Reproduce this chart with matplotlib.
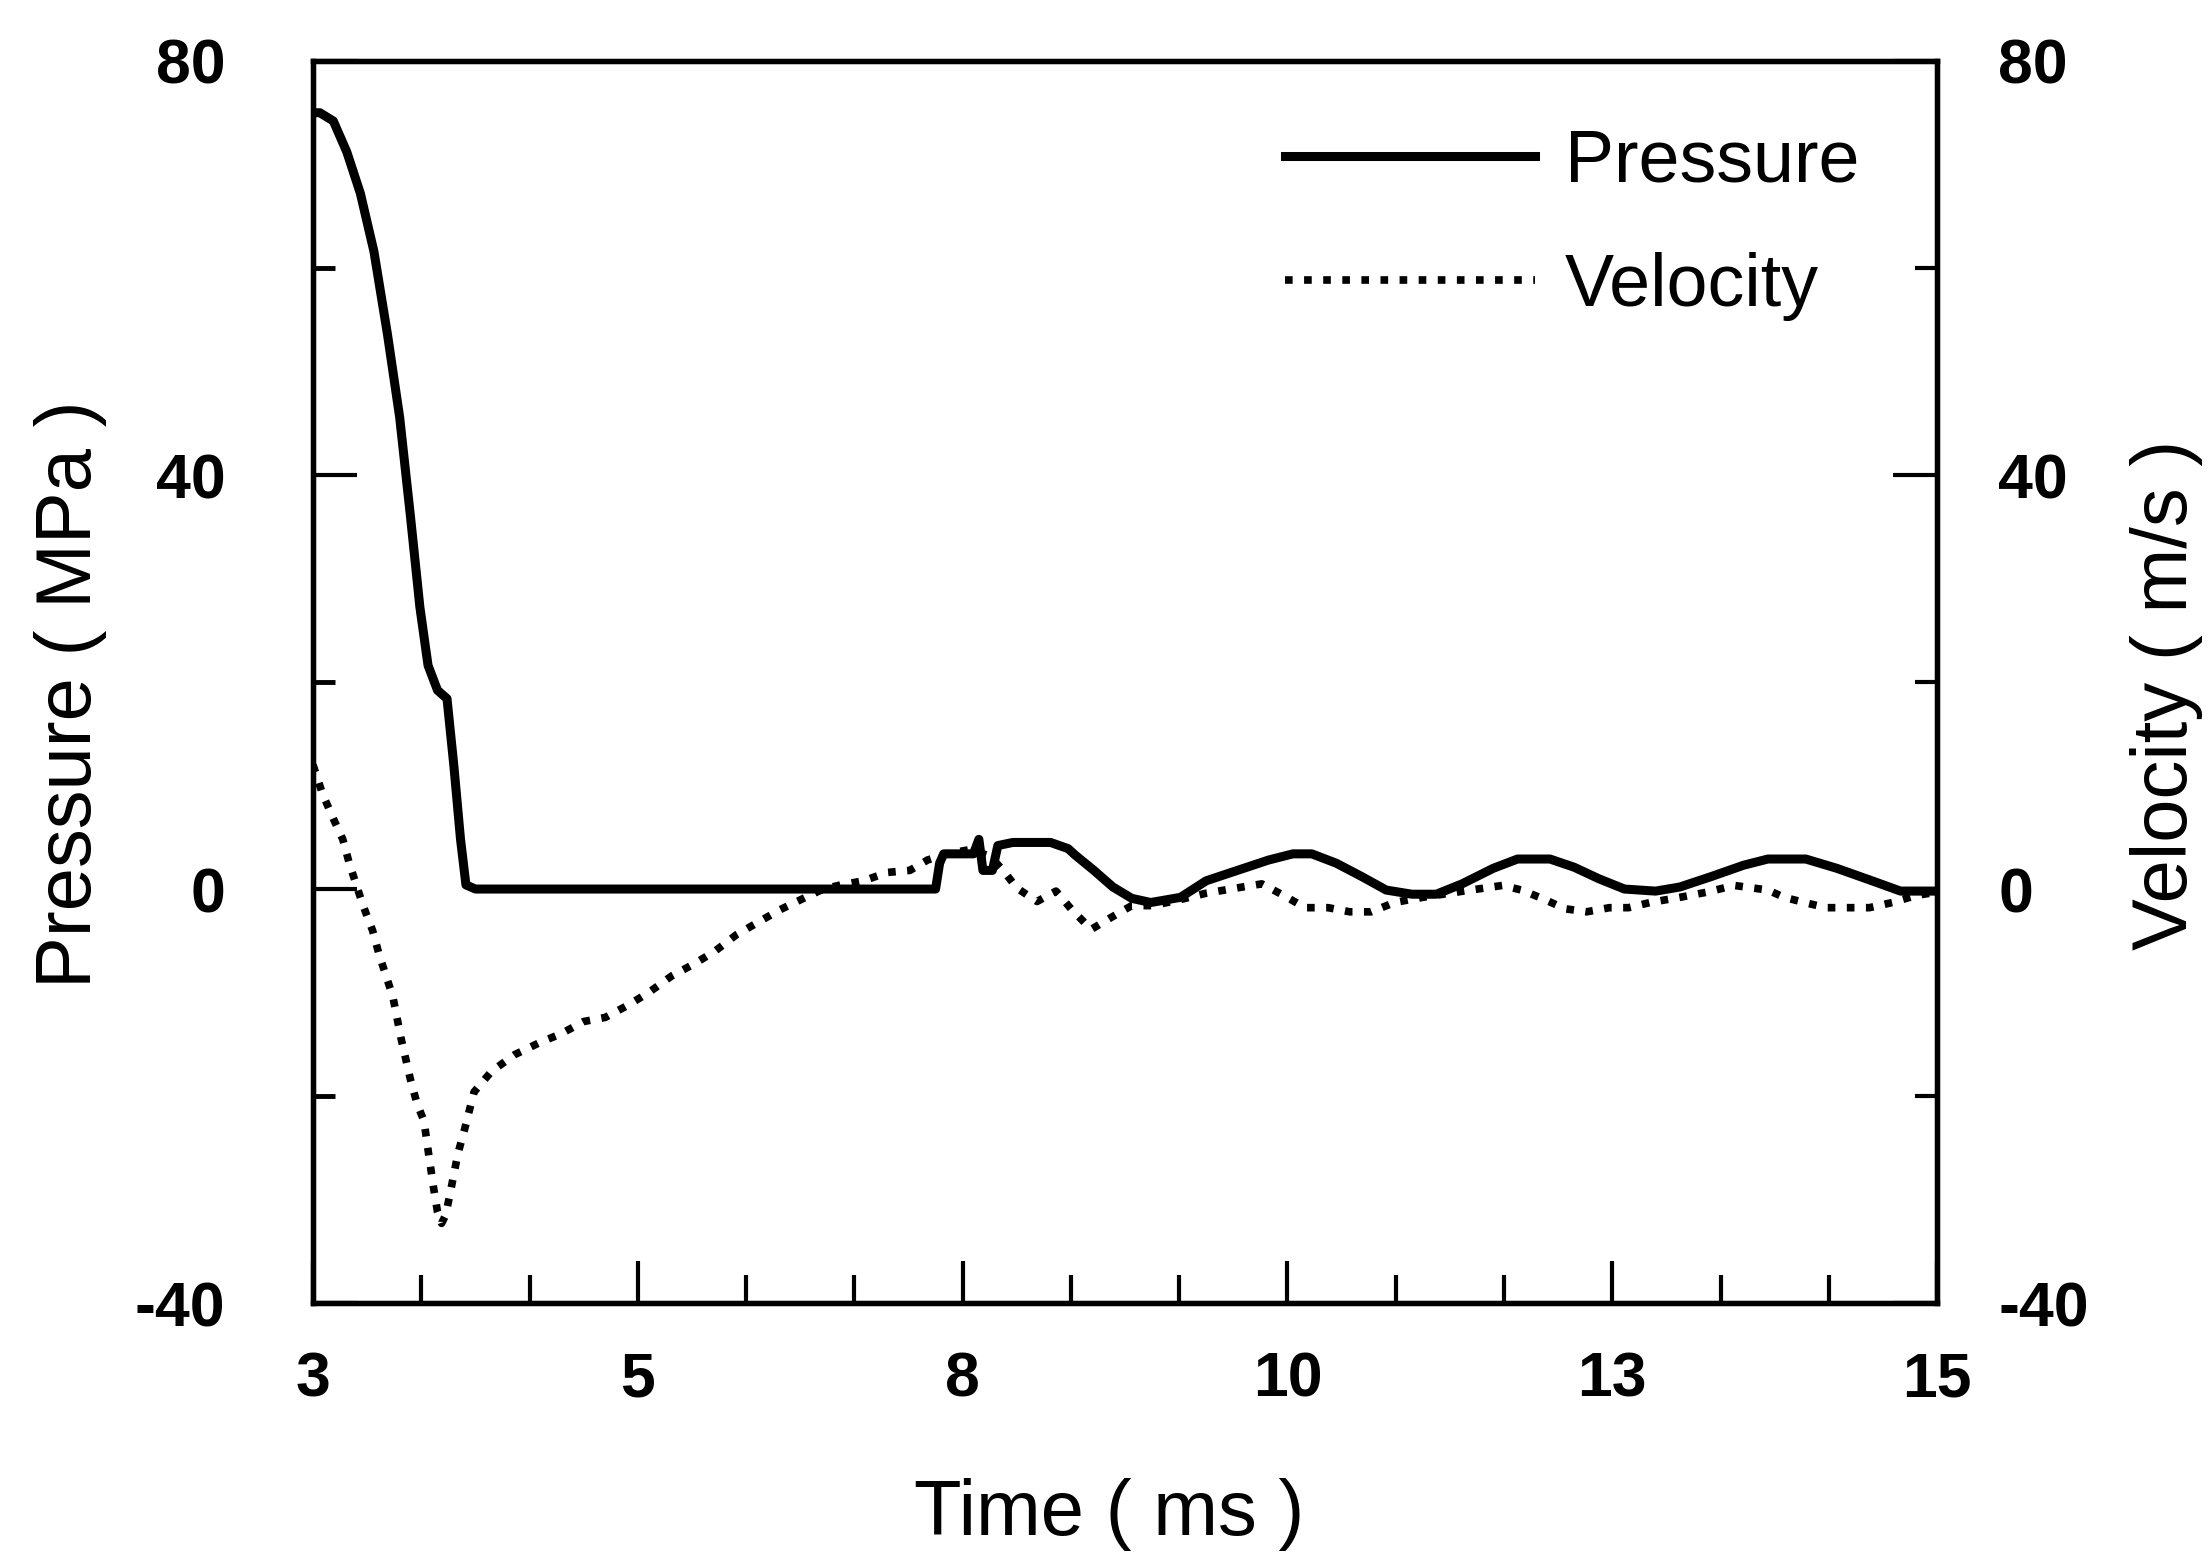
import numpy as np
import matplotlib
matplotlib.use("Agg")
import matplotlib.pyplot as plt
from matplotlib.ticker import FixedLocator

plt.rcParams['font.family'] = ['Liberation Sans', 'DejaVu Sans']
plt.rcParams['axes.unicode_minus'] = False

# pressure trace (MPa)
t_p = [3.0, 3.05, 3.15, 3.25, 3.35, 3.45, 3.55, 3.64, 3.72, 3.79, 3.85, 3.92,
       3.99, 4.04, 4.09, 4.13, 4.2, 7.6, 7.63, 7.66, 7.88, 7.92, 7.95, 8.02,
       8.06, 8.17, 8.45, 8.58, 8.63, 8.77, 8.91, 9.05, 9.19, 9.41, 9.6, 9.83,
       10.06, 10.24, 10.38, 10.56, 10.75, 10.93, 11.12, 11.3, 11.49, 11.72,
       11.9, 12.14, 12.32, 12.5, 12.69, 12.92, 13.1, 13.33, 13.57, 13.75,
       14.03, 14.26, 14.54, 14.73, 15.0]
pressure = [75, 75, 74.2, 71.2, 67.2, 61.6, 53.6, 45.6, 36, 27.2, 21.6, 19.2,
            18.4, 12, 4.8, 0.4, 0, 0, 2.5, 3.4, 3.4, 4.8, 1.8, 1.8,
            4.2, 4.5, 4.5, 3.9, 3.3, 1.8, 0.2, -0.9, -1.3, -0.8, 0.8, 1.8,
            2.8, 3.4, 3.4, 2.5, 1.2, -0.1, -0.5, -0.5, 0.5, 2.0,
            2.9, 2.9, 2.1, 1.0, 0.0, -0.2, 0.2, 1.2, 2.3, 2.9,
            2.9, 2.0, 0.7, -0.2, -0.2]

# velocity trace (m/s)
t_v = [3.0, 3.07, 3.15, 3.22, 3.27, 3.32, 3.37, 3.44, 3.49, 3.54, 3.59, 3.65,
       3.72, 3.77, 3.82, 3.85, 3.89, 3.92, 3.95, 3.98, 4.01, 4.07, 4.12, 4.19,
       4.32, 4.49, 4.68, 4.83, 5.0, 5.16, 5.33, 5.48, 5.65, 5.82, 5.97, 6.13,
       6.29, 6.45, 6.64, 6.77, 6.9, 7.07, 7.24, 7.41, 7.54, 7.68, 7.85, 8.0,
       8.1, 8.2, 8.35, 8.49, 8.6, 8.75, 8.89, 9.05, 9.2, 9.35, 9.6, 9.87,
       10.01, 10.17, 10.33, 10.5, 10.66, 10.82, 10.99, 11.2, 11.5, 11.79,
       11.93, 12.09, 12.25, 12.41, 12.58, 12.72, 12.88, 13.1, 13.3, 13.5,
       13.75, 13.87, 14.02, 14.18, 14.35, 14.5, 14.67, 14.85, 15.0]
velocity = [12, 9.2, 6.8, 4.8, 2.4, 0.4, -1.6, -4, -6.4, -8.4, -10.4, -14.4,
            -18.4, -20.8, -22.4, -25.2, -28.8, -31.2, -32.3, -31.5, -29.6, -25.6, -23.2, -19.6,
            -17.6, -16, -14.8, -14, -12.8, -12.4, -11.2, -10, -8.4, -7.2, -6, -4.4,
            -3.2, -2, -0.8, 0, 0.4, 0.8, 1.6, 1.8, 2.8, 3.4, 3.8, 3.2,
            1.8, 0.1, -1.2, -0.2, -1.9, -3.9, -2.8, -1.6, -1.6, -1.2, -0.4, 0.2,
            0.5, -0.6, -1.8, -1.8, -2.2, -2.2, -1.3, -0.8, -0.2, 0.35,
            -0.1, -0.95, -1.9, -2.2, -1.8, -1.8, -1.3, -0.8, -0.3, 0.35,
            -0.1, -0.8, -1.3, -1.8, -1.8, -1.8, -1.3, -0.6, -0.3]

xtick_pos = [3, 5.4, 7.8, 10.2, 12.6, 15]
xtick_labels = ["3", "5", "8", "10", "13", "15"]
ytick_pos = [80, 40, 0, -40]

fig = plt.figure(figsize=(22.09, 15.55), dpi=100)
ax = fig.add_axes([0.1417, 0.162, 0.7352, 0.7988])
ax2 = ax.twinx()

lp, = ax.plot(t_p, pressure, color="k", lw=6.5, solid_joinstyle="round")
lv, = ax2.plot(t_v, velocity, color="k", lw=5.5, linestyle=(0, (1, 1.5)))

for a in (ax, ax2):
    a.set_xlim(3, 15)
    a.set_ylim(-40, 80)
    for s in a.spines.values():
        s.set_linewidth(3.8)

ax.xaxis.set_major_locator(FixedLocator(xtick_pos))
ax.set_xticklabels(xtick_labels)
ax.xaxis.set_minor_locator(FixedLocator(np.arange(3, 15.01, 0.8)))
ax.yaxis.set_major_locator(FixedLocator(ytick_pos))
ax.yaxis.set_minor_locator(FixedLocator([60, 20, -20]))
ax2.yaxis.set_major_locator(FixedLocator(ytick_pos))
ax2.yaxis.set_minor_locator(FixedLocator([60, 20, -20]))

ax.tick_params(axis="x", which="major", direction="in", length=30, width=3,
               pad=34, labelsize=45, top=False)
ax.tick_params(axis="x", which="minor", direction="in", length=20, width=3, top=False)
ax.tick_params(axis="y", which="major", direction="in", length=32, width=3,
               pad=63, labelsize=45)
ax.tick_params(axis="y", which="minor", direction="in", length=16, width=3.5)
ax2.tick_params(axis="y", which="major", direction="in", length=32, width=3,
                pad=44, labelsize=45)
ax2.tick_params(axis="y", which="minor", direction="in", length=16, width=3)
for lab in ax.get_xticklabels() + ax.get_yticklabels() + ax2.get_yticklabels():
    lab.set_fontweight("bold")

ax.set_xlabel("Time ( ms )", fontsize=56)
ax.xaxis.set_label_coords(0.49, -0.141)
ax.set_ylabel("Pressure ( MPa )", fontsize=56)
ax.yaxis.set_label_coords(-0.127, 0.49)
ax2.set_ylabel("Velocity ( m/s )", fontsize=56, rotation=90)
ax2.yaxis.set_label_coords(1.119, 0.49)

fig.legend([lp, lv], ["Pressure", "Velocity"], loc="upper left",
           bbox_to_anchor=(1285 / 2209, 1 - 128 / 1555), frameon=False,
           fontsize=53, handlelength=3.4, handletextpad=0.4,
           labelspacing=0.75, borderpad=0, borderaxespad=0)

fig.savefig("out.png", dpi=100)
